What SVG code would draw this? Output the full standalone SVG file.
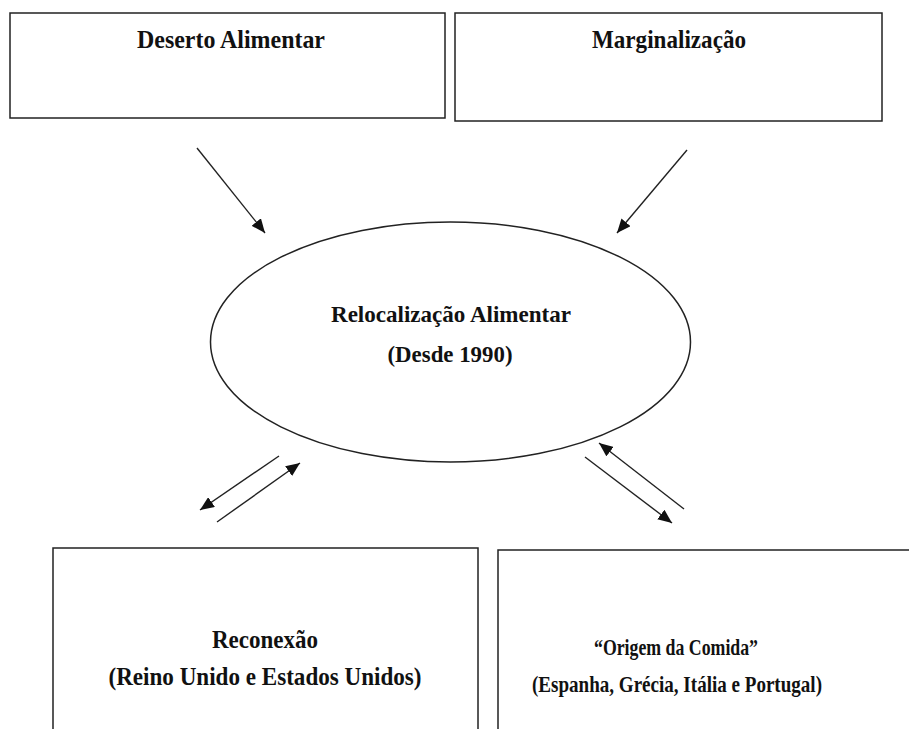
<svg xmlns="http://www.w3.org/2000/svg" width="909" height="729" viewBox="0 0 909 729">
<style>
.box{fill:#fff;stroke:#222;stroke-width:1.5}
text{font-family:'Liberation Serif','DejaVu Serif','Times New Roman',serif;font-weight:700;font-size:23px;fill:#111;text-anchor:middle}
.big{font-size:25px}
.mid{font-size:24px}
.c{stroke:#222;stroke-width:1.4;fill:none;marker-end:url(#ah)}
</style>
<defs>
<marker id="ah" viewBox="0 0 14 12" refX="14" refY="6" markerWidth="14" markerHeight="12" markerUnits="userSpaceOnUse" orient="auto">
<path d="M0,0 L14,6 L0,12 z" fill="#111"/>
</marker>
</defs>
<rect width="909" height="729" fill="#fff"/>
<g id="deserto">
<rect class="box" x="10" y="13" width="435" height="105"/>
<text class="big" x="231" y="48" textLength="188" lengthAdjust="spacingAndGlyphs">Deserto Alimentar</text>
</g>
<g id="marginalizacao">
<rect class="box" x="455" y="13" width="427" height="108"/>
<text class="big" x="669" y="48" textLength="154" lengthAdjust="spacingAndGlyphs">Marginalização</text>
</g>
<g id="relocalizacao">
<ellipse cx="450.5" cy="342" rx="240" ry="120" fill="#fff" stroke="#222" stroke-width="1.5"/>
<text x="451" y="322" textLength="240" lengthAdjust="spacingAndGlyphs">Relocalização Alimentar</text>
<text x="450" y="362" textLength="125" lengthAdjust="spacingAndGlyphs">(Desde 1990)</text>
</g>
<g id="reconexao">
<rect class="box" x="53" y="548" width="425" height="200"/>
<text class="big" x="265" y="648" textLength="106" lengthAdjust="spacingAndGlyphs">Reconexão</text>
<text class="big" x="265" y="685" textLength="313" lengthAdjust="spacingAndGlyphs">(Reino Unido e Estados Unidos)</text>
</g>
<g id="origem">
<rect class="box" x="498" y="550" width="430" height="200"/>
<text class="mid" x="676" y="655" textLength="164" lengthAdjust="spacingAndGlyphs">“Origem da Comida”</text>
<text class="mid" x="677" y="692" textLength="290" lengthAdjust="spacingAndGlyphs">(Espanha, Grécia, Itália e Portugal)</text>
</g>
<g id="connectors">
<line class="c" x1="197" y1="148" x2="265" y2="233"/>
<line class="c" x1="687" y1="150" x2="617" y2="233"/>
<line class="c" x1="279" y1="456" x2="200" y2="510"/>
<line class="c" x1="217" y1="522" x2="300" y2="463"/>
<line class="c" x1="684" y1="509" x2="599" y2="443"/>
<line class="c" x1="585" y1="457" x2="672" y2="523"/>
</g>
</svg>
